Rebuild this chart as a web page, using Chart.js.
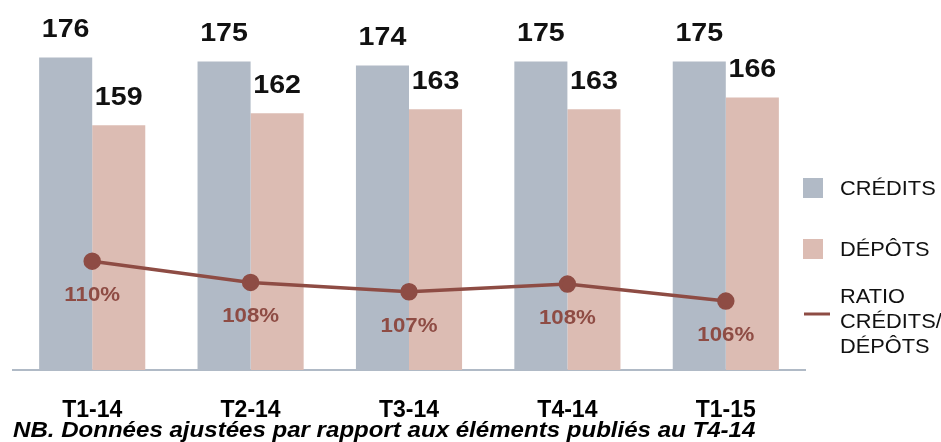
<!DOCTYPE html>
<html>
<head>
<meta charset="utf-8">
<script src="https://cdn.jsdelivr.net/npm/chart.js@4.4.1/dist/chart.umd.min.js"></script>
<style>
  html, body { margin: 0; padding: 0; background: #fff; }
  #wrap { width: 941px; height: 442px; position: relative; }
</style>
</head>
<body>
<div id="wrap"><canvas id="ratioChart" width="941" height="442"></canvas></div>
<script>
// data
const quarters = ['T1-14', 'T2-14', 'T3-14', 'T4-14', 'T1-15'];
const credits = [176, 175, 174, 175, 175];
const deposits = [159, 162, 163, 163, 166];
const ratio = [110.3, 107.8, 106.7, 107.6, 105.6];

const creditColor = '#b1bac6';
const depositColor = '#dcbcb3';
const lineColor = '#8e4c44';
const FONT = '"Liberation Sans", Arial, sans-serif';

// the source text is slightly wider than the font, so stretch it a bit
function wideText(ctx, text, x, y, sx) {
  ctx.save();
  ctx.translate(x, y);
  ctx.scale(sx, 1);
  ctx.fillText(text, 0, 0);
  ctx.restore();
}

// value labels, custom legend and footnote
const annotations = {
  id: 'annotations',
  afterDatasetsDraw(chart) {
    const ctx = chart.ctx;
    ctx.save();
    ctx.textAlign = 'center';
    ctx.textBaseline = 'middle';

    // bar values
    ctx.fillStyle = '#111';
    ctx.font = 'bold 26px ' + FONT;
    [0, 1].forEach(i => {
      const meta = chart.getDatasetMeta(i);
      const vals = chart.data.datasets[i].data;
      meta.data.forEach((bar, j) => {
        wideText(ctx, vals[j], bar.x, bar.y - 28, 1.1);
      });
    });

    // ratio values
    ctx.fillStyle = lineColor;
    ctx.font = 'bold 21px ' + FONT;
    const lineMeta = chart.getDatasetMeta(2);
    lineMeta.data.forEach((pt, j) => {
      wideText(ctx, Math.round(ratio[j]) + '%', pt.x, pt.y + 34, 1.06);
    });

    // legend
    ctx.textAlign = 'left';
    ctx.fillStyle = creditColor;
    ctx.fillRect(803, 178, 20, 20);
    ctx.fillStyle = depositColor;
    ctx.fillRect(803, 239, 20, 20);
    ctx.strokeStyle = lineColor;
    ctx.lineWidth = 3;
    ctx.beginPath();
    ctx.moveTo(804, 314);
    ctx.lineTo(830, 314);
    ctx.stroke();

    ctx.fillStyle = '#111';
    ctx.font = '20px ' + FONT;
    wideText(ctx, 'CRÉDITS', 840, 189, 1.09);
    wideText(ctx, 'DÉPÔTS', 840, 250, 1.09);
    wideText(ctx, 'RATIO', 840, 297, 1.09);
    wideText(ctx, 'CRÉDITS/', 840, 322, 1.09);
    wideText(ctx, 'DÉPÔTS', 840, 347, 1.09);

    // footnote
    ctx.textBaseline = 'alphabetic';
    ctx.fillStyle = '#000';
    ctx.font = 'italic bold 22px ' + FONT;
    wideText(ctx, 'NB. Données ajustées par rapport aux éléments publiés au T4-14', 13, 437, 1.094);
    ctx.restore();
  }
};

new Chart(document.getElementById('ratioChart'), {
  data: {
    labels: quarters,
    datasets: [
      {
        type: 'bar',
        label: 'CRÉDITS',
        data: credits,
        backgroundColor: creditColor,
        yAxisID: 'y',
        order: 2,
        categoryPercentage: 0.67,
        barPercentage: 1
      },
      {
        type: 'bar',
        label: 'DÉPÔTS',
        data: deposits,
        backgroundColor: depositColor,
        yAxisID: 'y',
        order: 2,
        categoryPercentage: 0.67,
        barPercentage: 1
      },
      {
        type: 'line',
        label: 'RATIO CRÉDITS/DÉPÔTS',
        data: ratio,
        borderColor: lineColor,
        backgroundColor: lineColor,
        borderWidth: 3.5,
        pointRadius: 7,
        pointHoverRadius: 7,
        tension: 0,
        yAxisID: 'y1',
        order: 0
      }
    ]
  },
  options: {
    responsive: false,
    animation: false,
    layout: { padding: { left: 13, right: 136, top: 10, bottom: 22 } },
    plugins: {
      legend: { display: false },
      tooltip: { enabled: false }
    },
    scales: {
      x: {
        grid: { display: false, drawTicks: false },
        border: { display: true, color: '#b0bac6', width: 2 },
        ticks: {
          color: '#000',
          padding: 27,
          font: { family: FONT, size: 23, weight: 'bold' }
        },
        afterFit: (scale) => { scale.height = 50; }
      },
      y: {
        display: false,
        min: 97.75,
        max: 187.75
      },
      y1: {
        display: false,
        min: 97.48,
        max: 139.83
      }
    }
  },
  plugins: [annotations]
});
</script>
</body>
</html>
